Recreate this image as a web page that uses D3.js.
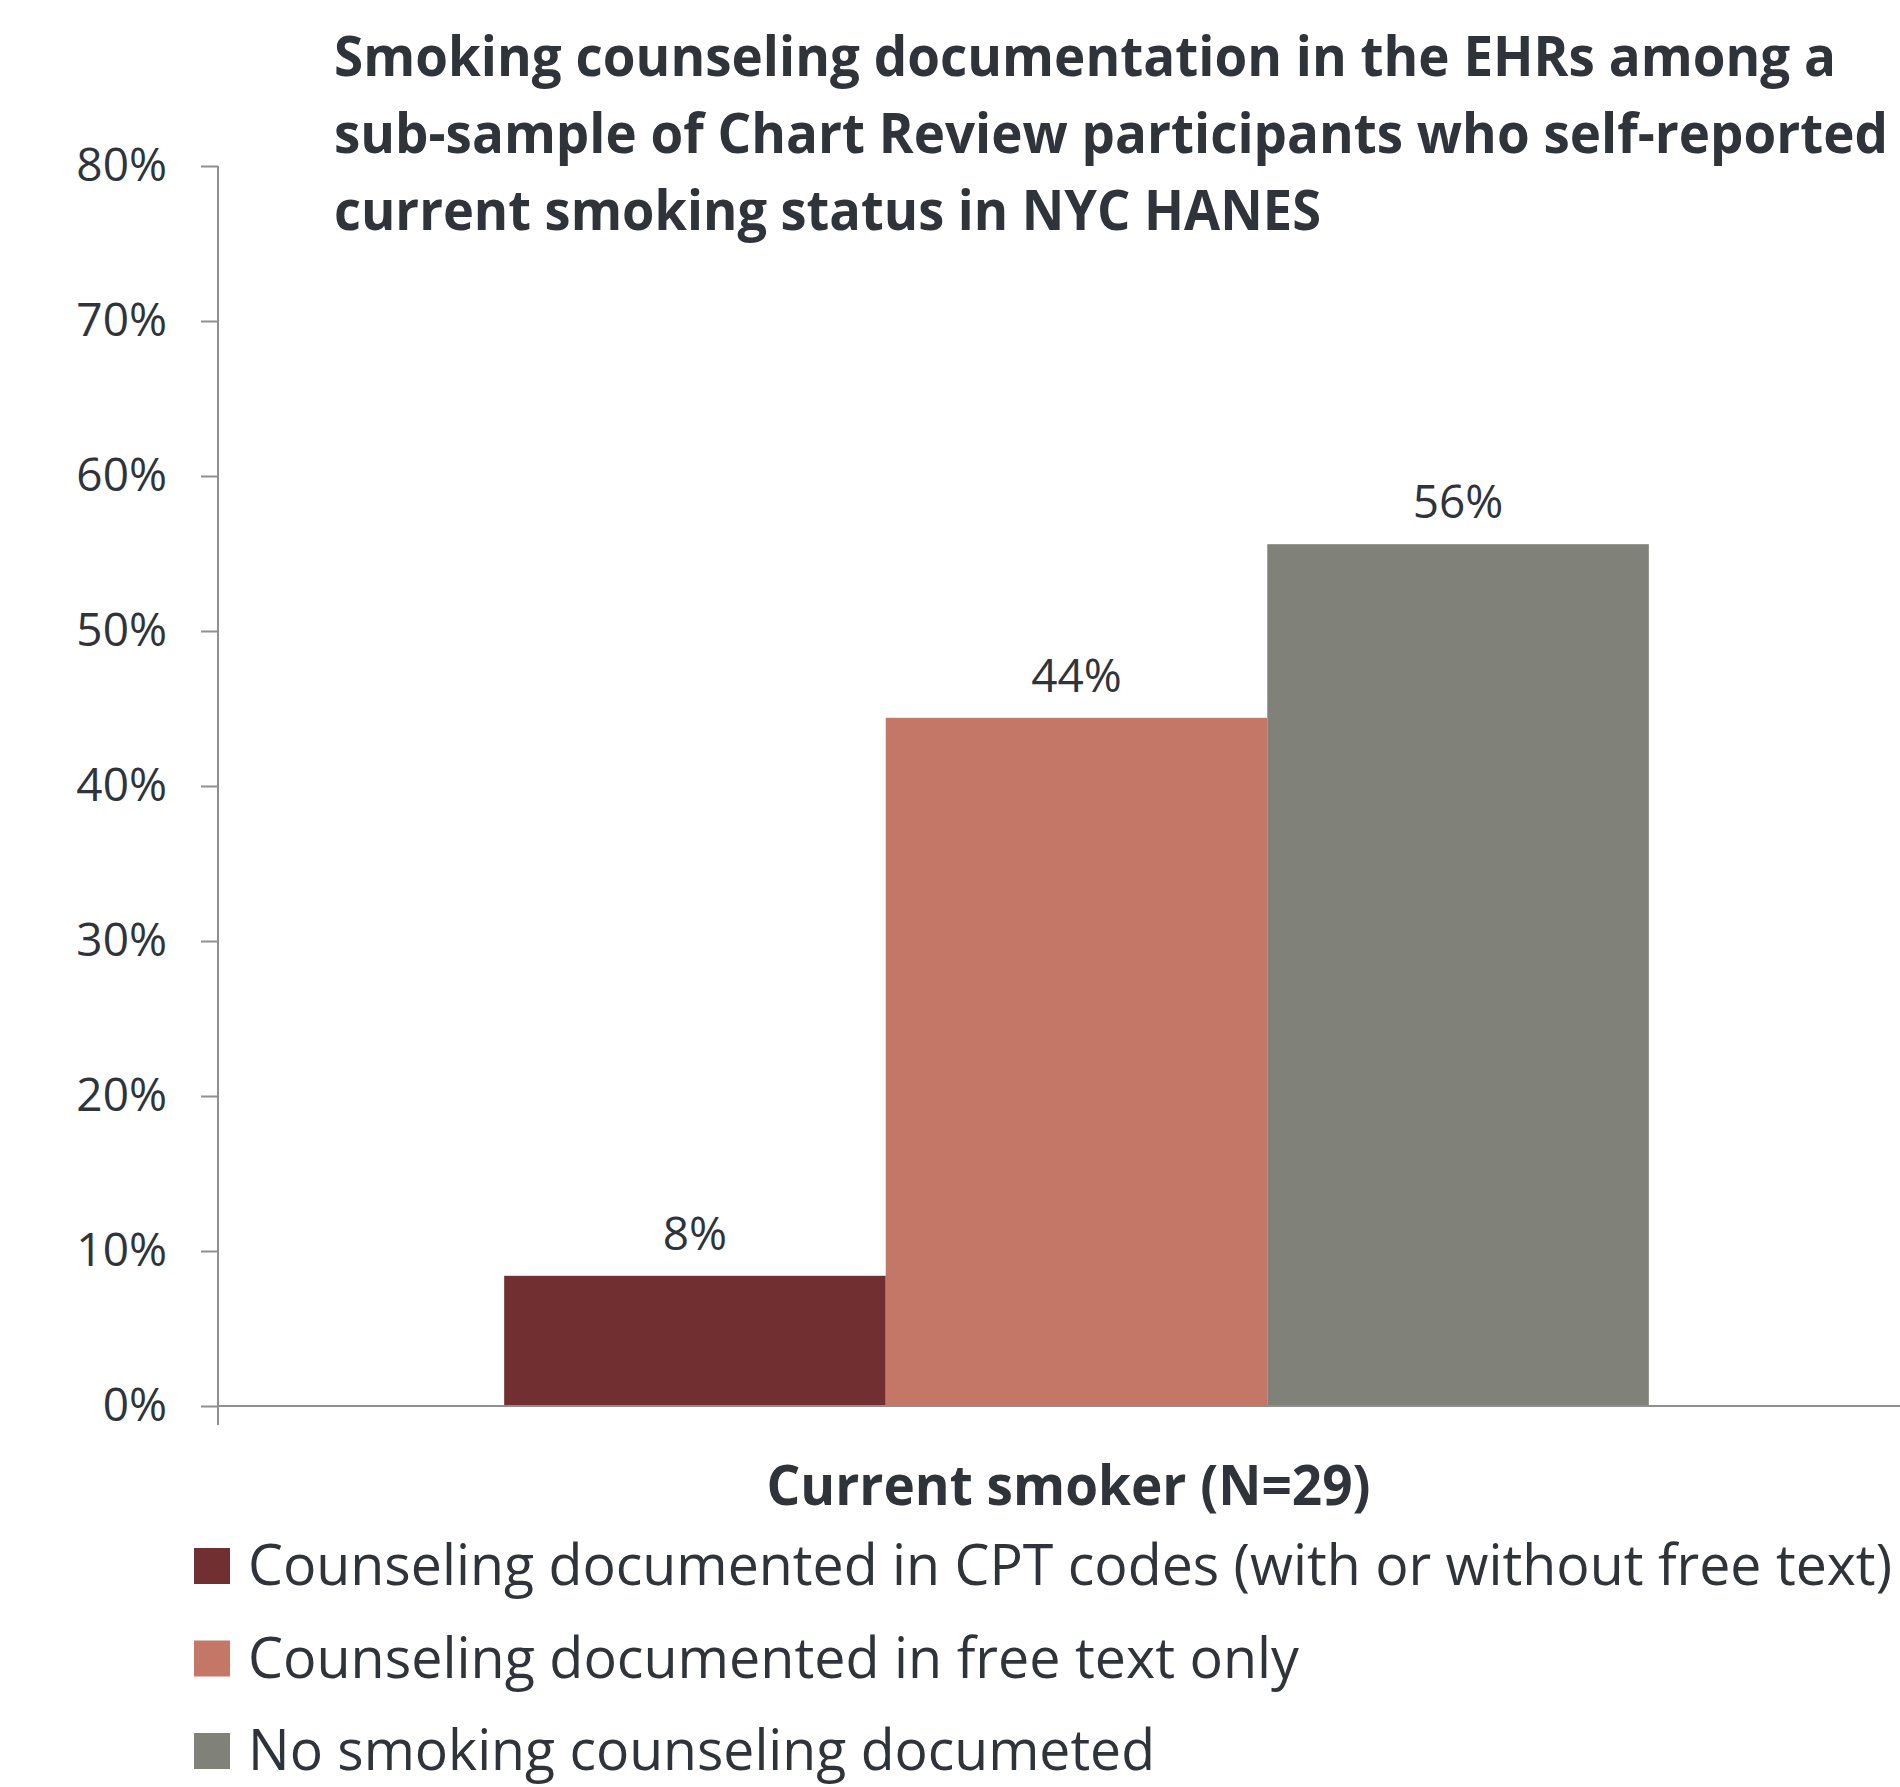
<!DOCTYPE html>
<html lang="en">
<head>
<meta charset="UTF-8">
<title>Smoking counseling documentation</title>
<style>
  body { margin: 0; background: #fff; overflow: hidden; }
  svg text { font-family: "Open Sans", "Noto Sans", sans-serif; fill: #2f343b; }
</style>
</head>
<body>
<svg></svg>
<script src="https://d3js.org/d3.v7.min.js"></script>
<script>
// data
var categories = ["Current smoker (N=29)"];
var seriesNames = [
  "Counseling documented in CPT codes (with or without free text)",
  "Counseling documented in free text only",
  "No smoking counseling documeted"
];
var values = [8.4, 44.4, 55.6];
var valueLabels = ["8%", "44%", "56%"];
var colors = ["#722f31", "#c57767", "#80827a"];
var yTicks = [0, 10, 20, 30, 40, 50, 60, 70, 80];
var titleLines = [
  "Smoking counseling documentation in the EHRs among a",
  "sub-sample of Chart Review participants who self-reported",
  "current smoking status in NYC HANES"
];

// layout
var W = 1900, H = 1787;
var plot = {left: 218, right: 1935, top: 166, bottom: 1406};
var axisColor = "#8f8f8f";

var svg = d3.select("svg").attr("width", W).attr("height", H);

var x0 = d3.scaleBand()
  .domain(categories)
  .range([plot.left, plot.right])
  .paddingInner(0).paddingOuter(0);

var x1 = d3.scaleBand()
  .domain(seriesNames)
  .range([0, x0.bandwidth()])
  .paddingInner(0).paddingOuter(0.75);

var y = d3.scaleLinear().domain([0, 80]).range([plot.bottom, plot.top]);

// bars
var cat = svg.append("g")
  .selectAll("g")
  .data(categories)
  .enter()
  .append("g")
  .attr("transform", function(d){ return "translate(" + x0(d) + ",0)"; });

cat.selectAll("rect")
  .data(values)
  .enter()
  .append("rect")
  .attr("x", function(d, i){ return x1(seriesNames[i]); })
  .attr("width", x1.bandwidth())
  .attr("y", function(d){ return y(d); })
  .attr("height", function(d){ return y(0) - y(d); })
  .attr("fill", function(d, i){ return colors[i]; });

cat.selectAll("text.val")
  .data(values)
  .enter()
  .append("text")
  .attr("class", "val")
  .attr("x", function(d, i){ return x1(seriesNames[i]) + x1.bandwidth() / 2; })
  .attr("y", function(d){ return y(d) - 26; })
  .attr("text-anchor", "middle")
  .attr("font-size", "46px")
  .text(function(d, i){ return valueLabels[i]; });

// y axis
var yAxis = svg.append("g")
  .attr("transform", "translate(" + plot.left + ",0)")
  .call(d3.axisLeft(y)
    .tickValues(yTicks)
    .tickSize(17)
    .tickSizeOuter(0)
    .tickPadding(34)
    .tickFormat(function(d){ return d + "%"; }));
yAxis.select(".domain").remove();
yAxis.selectAll("line").attr("stroke", axisColor).attr("stroke-width", 2);
yAxis.selectAll("text")
  .attr("font-size", "46px")
  .attr("font-family", "Open Sans")
  .attr("fill", "#2f343b");

svg.append("line")
  .attr("x1", plot.left).attr("x2", plot.left)
  .attr("y1", y(80)).attr("y2", y(0) + 19)
  .attr("stroke", axisColor).attr("stroke-width", 2);

// x axis baseline and category edge ticks
svg.append("line")
  .attr("x1", plot.left).attr("x2", plot.right)
  .attr("y1", y(0)).attr("y2", y(0))
  .attr("stroke", axisColor).attr("stroke-width", 2);

svg.append("line")
  .attr("x1", plot.right).attr("x2", plot.right)
  .attr("y1", y(0)).attr("y2", y(0) + 19)
  .attr("stroke", axisColor).attr("stroke-width", 2);

svg.append("g")
  .selectAll("text")
  .data(categories)
  .enter()
  .append("text")
  .attr("x", function(d){ return x0(d) + x0.bandwidth() / 2 - 8; })
  .attr("y", 1505)
  .attr("text-anchor", "middle")
  .attr("font-size", "56px")
  .attr("font-weight", "bold")
  .attr("textLength", 604)
  .attr("lengthAdjust", "spacingAndGlyphs")
  .text(function(d){ return d; });

// title
var titleWidths = [1502, 1554, 987];
svg.append("g")
  .selectAll("text")
  .data(titleLines)
  .enter()
  .append("text")
  .attr("x", 334)
  .attr("y", function(d, i){ return 76 + i * 77; })
  .attr("font-size", "55px")
  .attr("font-weight", "bold")
  .attr("textLength", function(d, i){ return titleWidths[i]; })
  .attr("lengthAdjust", "spacingAndGlyphs")
  .text(function(d){ return d; });

// legend
var legendWidths = [1644, 1051, 907];
var legend = svg.append("g")
  .selectAll("g")
  .data(seriesNames)
  .enter()
  .append("g")
  .attr("transform", function(d, i){ return "translate(194," + (1585 + i * 92.5) + ")"; });

legend.append("rect")
  .attr("x", 0).attr("y", -37)
  .attr("width", 36).attr("height", 36)
  .attr("fill", function(d, i){ return colors[i]; });

legend.append("text")
  .attr("x", 54)
  .attr("y", 0)
  .attr("font-size", "56px")
  .attr("textLength", function(d, i){ return legendWidths[i]; })
  .attr("lengthAdjust", "spacingAndGlyphs")
  .text(function(d){ return d; });
</script>
</body>
</html>
